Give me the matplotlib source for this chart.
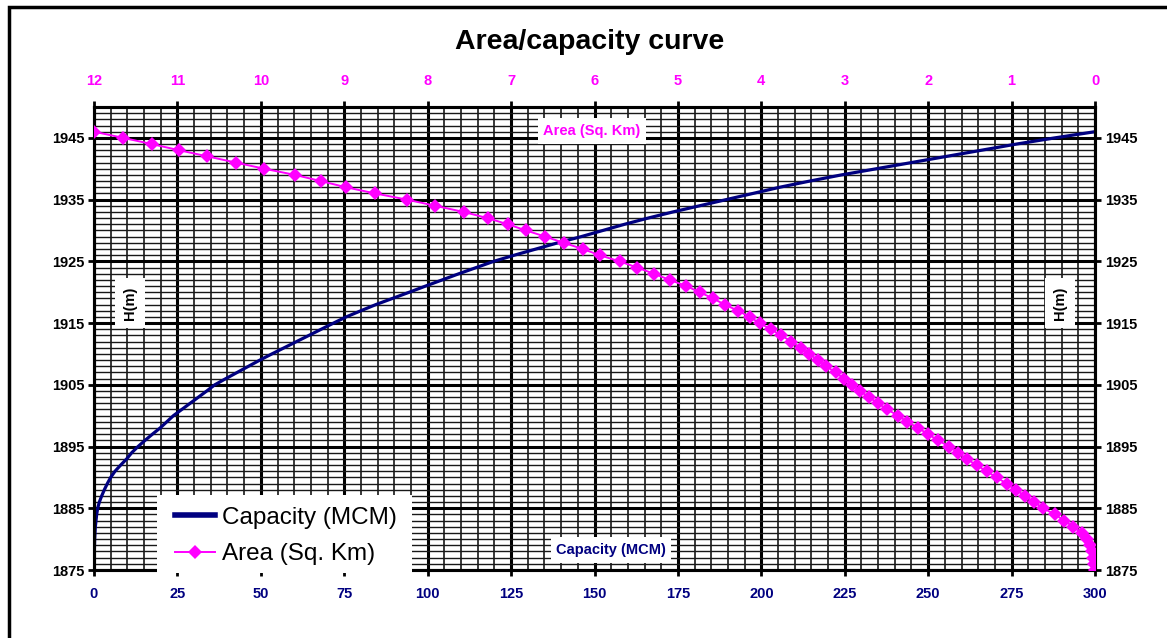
import matplotlib
matplotlib.use("Agg")
import matplotlib.pyplot as plt
from matplotlib.patches import Rectangle
from matplotlib.lines import Line2D

plt.rcParams['font.family'] = ['Liberation Sans', 'DejaVu Sans']

# ---- data ----
levels = [1875, 1876, 1877, 1878, 1879, 1880, 1881, 1882, 1883, 1884,
          1885, 1886, 1887, 1888, 1889, 1890, 1891, 1892, 1893, 1894,
          1895, 1896, 1897, 1898, 1899, 1900, 1901, 1902, 1903, 1904,
          1905, 1906, 1907, 1908, 1909, 1910, 1911, 1912, 1913, 1914,
          1915, 1916, 1917, 1918, 1919, 1920, 1921, 1922, 1923, 1924,
          1925, 1926, 1927, 1928, 1929, 1930, 1931, 1932, 1933, 1934,
          1935, 1936, 1937, 1938, 1939, 1940, 1941, 1942, 1943, 1944,
          1945, 1946]

capacity_mcm = [0.0, 0.0, 0.05, 0.1, 0.15, 0.2, 0.3, 0.4, 0.6, 0.8,
                1.1, 1.6, 2.3, 3.1, 4.0, 5.0, 6.3, 8.0, 9.8, 11.3,
                13.2, 15.3, 17.5, 19.8, 21.8, 23.8, 26.3, 28.8, 31.3, 33.8,
                36.2, 39.5, 42.9, 46.3, 49.7, 53.3, 57.0, 60.7, 64.4, 68.1,
                71.8, 75.6, 80.0, 84.5, 89.5, 94.5, 99.4, 104.4, 109.4, 114.6,
                119.8, 126.0, 132.5, 139.0, 146.0, 152.5, 159.0, 166.0, 173.5, 181.5,
                189.5, 197.5, 205.5, 214.5, 224.0, 234.5, 245.0, 255.5, 266.0, 276.5,
                288.0, 300.0]

area_sqkm = [0.0, 0.01, 0.02, 0.03, 0.06, 0.10, 0.16, 0.26, 0.37, 0.48,
             0.62, 0.73, 0.84, 0.95, 1.06, 1.18, 1.30, 1.42, 1.54, 1.64,
             1.75, 1.88, 2.00, 2.12, 2.25, 2.36, 2.49, 2.60, 2.71, 2.82,
             2.91, 3.01, 3.11, 3.22, 3.32, 3.43, 3.53, 3.64, 3.76, 3.89,
             4.02, 4.14, 4.28, 4.44, 4.58, 4.74, 4.90, 5.10, 5.29, 5.49,
             5.70, 5.94, 6.14, 6.37, 6.59, 6.82, 7.04, 7.28, 7.57, 7.91,
             8.25, 8.63, 8.98, 9.28, 9.59, 9.96, 10.30, 10.64, 10.98, 11.31,
             11.65, 12.0]

cap_ticks = list(range(0, 301, 25))
area_ticks = list(range(0, 13))
h_ticks = list(range(1875, 1946, 10))

NAVY = '#000080'
MAG = '#ff00ff'

W, H = 1167, 638
fig = plt.figure(figsize=(W / 100, H / 100), dpi=100)
fig.patch.set_facecolor('white')

# outer frame (cut off at right & bottom)
fig.patches.append(Rectangle((9 / W, -0.2), 1.5, 1.2 - 7 / H, transform=fig.transFigure,
                             fill=False, edgecolor='black', lw=2.5))

ax = fig.add_axes([94 / W, 1 - 570 / H, (1095 - 94) / W, (570 - 107) / H])
ax.set_xlim(0, 300)
ax.set_ylim(1875, 1950)
ax.set_xticks(cap_ticks)
ax.set_xticks(range(0, 301, 5), minor=True)
ax.set_yticks(h_ticks)
ax.set_yticks(range(1875, 1951, 1), minor=True)
ax.grid(which='minor', axis='x', color='#181818', lw=1.2)
ax.grid(which='minor', axis='y', color='#181818', lw=1.0)
ax.grid(which='major', color='black', lw=2.2)
ax.set_axisbelow(True)
for s in ax.spines.values():
    s.set_linewidth(2.2)
    s.set_color('black')

ax.tick_params(axis='x', which='major', length=4, width=2, pad=8,
               labelsize=10.5, labelcolor=NAVY, colors='black')
ax.tick_params(axis='y', which='major', length=4, width=2, pad=3,
               labelsize=10.5, left=True, right=True, labelleft=True, labelright=True)
ax.tick_params(which='minor', length=0)
for lab in ax.get_xticklabels() + ax.get_yticklabels():
    lab.set_fontweight('bold')
for lab in ax.get_xticklabels():
    lab.set_color(NAVY)

ax.plot(capacity_mcm, levels, color=NAVY, lw=2.3, zorder=3)

ax2 = ax.twiny()
ax2.set_xlim(12, 0)
ax2.set_xticks(area_ticks)
ax2.tick_params(axis='x', which='major', length=4, width=2, pad=10,
                labelsize=10.5, labelcolor=MAG)
for lab in ax2.get_xticklabels():
    lab.set_fontweight('bold')
for s in ax2.spines.values():
    s.set_linewidth(2.2)
ax2.plot(area_sqkm, levels, color=MAG, lw=1.4, marker='D', markersize=7.5,
         markeredgewidth=0, zorder=4)

# inner labels
box = dict(facecolor='white', edgecolor='none', pad=4)
fig.text(592 / W, 1 - 131 / H, 'Area (Sq. Km)', color=MAG, fontsize=10.5,
         fontweight='bold', ha='center', va='center', bbox=box, zorder=10)
fig.text(611 / W, 1 - 550 / H, 'Capacity (MCM)', color=NAVY, fontsize=10.5,
         fontweight='bold', ha='center', va='center', bbox=box, zorder=10)
hbox = dict(facecolor='white', edgecolor='none', pad=6)
fig.text(130 / W, 1 - 303 / H, 'H(m)', color='black', fontsize=10.5, rotation=90,
         fontweight='bold', ha='center', va='center', bbox=hbox, zorder=10)
fig.text(1060 / W, 1 - 303 / H, 'H(m)', color='black', fontsize=10.5, rotation=90,
         fontweight='bold', ha='center', va='center', bbox=hbox, zorder=10)

# title
fig.text(590 / W, 1 - 42 / H, 'Area/capacity curve', fontsize=20.5, fontweight='bold',
         ha='center', va='center')

# legend (white background panel + frameless legend)
fig.patches.append(Rectangle((157 / W, 1 - 573 / H), (412 - 157) / W, (573 - 495) / H,
                             transform=fig.transFigure, facecolor='white',
                             edgecolor='none', zorder=15))
handles = [Line2D([], [], color=NAVY, lw=4),
           Line2D([], [], color=MAG, lw=1.4, marker='D', markersize=7, markeredgewidth=0)]
leg = fig.legend(handles, ['Capacity (MCM)', 'Area (Sq. Km)'], loc='center left',
                 bbox_to_anchor=(175 / W, 1 - 536 / H), frameon=False,
                 fontsize=17.5, handlelength=1.65, handletextpad=0.28,
                 borderpad=0, labelspacing=0.58, borderaxespad=0)
leg.set_zorder(20)

fig.savefig('out.png', dpi=100, facecolor='white')
